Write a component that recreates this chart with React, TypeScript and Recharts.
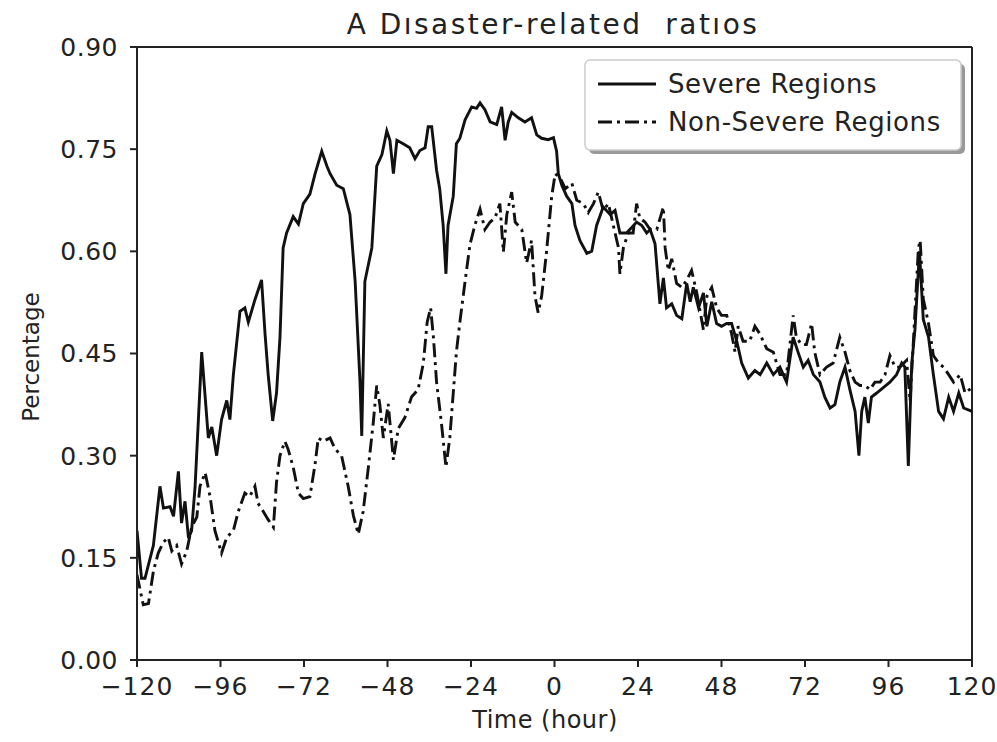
import React from 'react';
import { LineChart, Line, XAxis, YAxis, ReferenceLine } from 'recharts';

const severeHours = [
  -120, -118.7, -117.7, -115.3, -113.4, -112.4, -110.5, -109.5, -108.1, -107.2, -106.2, -105.2, -104.3, -103.3, -101.4,
  -99.5, -98.5, -97.1, -95.7, -94.2, -93.3, -92.3, -90.4, -89, -88, -86.1, -84.2, -83.2, -82.3, -81, -79.9, -78.9,
  -78, -77, -75.1, -73.6, -72.2, -70.3, -68.8, -66.9, -65.4, -64.5, -62.6, -60.7, -58.8, -57.3, -55.9, -55.4, -54.5,
  -52.5, -51.1, -49.6, -48.2, -47.3, -46.3, -45.3, -43.5, -41.6, -40.1, -38.7, -37.2, -36.3, -35.3, -33.9, -33, -32,
  -31.2, -30.6, -29.1, -28.2, -27.2, -25.7, -23.8, -22.4, -21.4, -20, -18.5, -16.6, -15.2, -14.2, -13.3, -12.3, -10.4,
  -8.5, -6.6, -5.1, -3.7, -1.8, -0.3, 0.6, 1.1, 2.1, 3.5, 5, 5.9, 7.3, 9.3, 10.7, 12.1, 14, 16, 17.4, 18.8, 20.7, 22.2,
  23.6, 25.1, 26.5, 27.5, 28.9, 30.3, 31.3, 32.2, 33.7, 35.1, 36.6, 38, 39, 39.9, 41.4, 42.8, 43.8, 45.2, 46.6, 48,
  49.5, 50.9, 52.4, 53.8, 55.7, 57.6, 59.1, 61, 62.9, 64.8, 66.7, 68.6, 70, 71.5, 72.9, 74.4, 76.3, 77.7, 79.2, 80.6,
  82, 83.5, 84.9, 86.4, 87.5, 88.3, 89.2, 90.2, 91.1, 92.6, 94.5, 96.4, 98.3, 99.8, 100.7, 101.7, 102.7, 103.6, 104.9,
  106, 107.5, 108.9, 110.4, 111.8, 113.3, 114.7, 116.2, 117.6, 120,
];
const severeValues = [
  0.19, 0.12, 0.12, 0.168, 0.255, 0.223, 0.225, 0.211, 0.277, 0.201, 0.233, 0.179, 0.19, 0.255, 0.452,
  0.326, 0.342, 0.3, 0.353, 0.381, 0.353, 0.419, 0.512, 0.517, 0.496, 0.529, 0.558, 0.479, 0.419, 0.351, 0.392, 0.474,
  0.605, 0.627, 0.651, 0.64, 0.67, 0.684, 0.714, 0.747, 0.725, 0.714, 0.697, 0.692, 0.654, 0.556, 0.408, 0.329, 0.556,
  0.605, 0.725, 0.742, 0.777, 0.763, 0.714, 0.763, 0.758, 0.752, 0.736, 0.748, 0.752, 0.783, 0.783, 0.719, 0.692, 0.638,
  0.567, 0.638, 0.681, 0.758, 0.766, 0.793, 0.812, 0.81, 0.818, 0.808, 0.79, 0.786, 0.812, 0.763, 0.79, 0.804, 0.796,
  0.79, 0.796, 0.771, 0.766, 0.764, 0.767, 0.747, 0.714, 0.697, 0.681, 0.67, 0.638, 0.616, 0.597, 0.6, 0.638, 0.665, 0.654, 0.66, 0.627, 0.627, 0.635,
  0.643, 0.638, 0.627, 0.632, 0.611, 0.523, 0.561, 0.517, 0.523, 0.506, 0.501, 0.553, 0.526, 0.547, 0.517, 0.539, 0.49, 0.526, 0.494, 0.49,
  0.494, 0.494, 0.468, 0.436, 0.414, 0.425, 0.419, 0.436, 0.419, 0.43, 0.408, 0.474, 0.452, 0.43, 0.44, 0.419, 0.408, 0.386, 0.37, 0.375,
  0.408, 0.43, 0.397, 0.365, 0.3, 0.365, 0.386, 0.348, 0.386, 0.392, 0.4, 0.408, 0.419, 0.436, 0.43, 0.285, 0.436, 0.485, 0.6,
  0.5, 0.474, 0.419, 0.365, 0.354, 0.386, 0.365, 0.392, 0.37, 0.365,
];

const nonSevereHours = [
  -120, -118.2, -116.7, -115.3, -113.9, -112.4, -111, -110, -108.6, -107.2, -105.7, -104.3, -102.8, -101.9, -100.4,
  -99, -97.6, -95.7, -94.2, -92.3, -90.9, -89, -87.6, -86.1, -85.2, -83.7, -82.3, -80.8, -79.9, -78.9, -77.5, -76.6,
  -75.1, -73.6, -72.2, -70.3, -68.8, -67.9, -66.5, -64.5, -63.1, -61.2, -59.3, -57.8, -56.4, -55, -53.5, -52.1, -51.1,
  -50.2, -49.2, -47.8, -46.3, -44.9, -43, -41.1, -39.2, -37.7, -36.6, -35.6, -34.8, -33.9, -32.5, -31.2, -30.1, -29.1,
  -28.2, -27.2, -25.7, -24.3, -22.9, -21.4, -20, -18.5, -17.1, -15.7, -14.7, -13.7, -12.3, -11.3, -9.4, -8, -6.6, -5.6,
  -4.7, -3.7, -2.3, -0.8, 0.2, 1.6, 3.1, 5, 6.4, 8.3, 9.7, 11.2, 12.6, 14, 15.5, 16.9, 18.4, 18.8, 19.8, 21.2, 22.6,
  23.6, 24.5, 26, 27.5, 29.4, 31.3, 31.8, 32.7, 33.7, 35.1, 36.6, 38, 39.4, 40.9, 42.8, 43.8, 45.2, 46.6, 48, 49.5,
  50.9, 51.9, 52.8, 54.2, 56.1, 57.6, 59, 61, 62.9, 64.8, 66.7, 68.6, 69.5, 71, 72.4, 73.9, 74.8, 76.3, 78.2, 80.1, 82,
  83.5, 84.9, 86.4, 87.8, 89.2, 90.7, 92.1, 93.6, 95, 96.4, 97.9, 99.3, 101.2, 102.2, 103.1, 104.6, 105.1, 106, 107.5,
  108.9, 110.4, 111.8, 113.3, 114.7, 116.6, 118, 120,
];
const nonSevereValues = [
  0.125, 0.081, 0.083, 0.13, 0.157, 0.173, 0.18, 0.16, 0.168, 0.141, 0.16, 0.195, 0.21, 0.255, 0.275,
  0.24, 0.19, 0.157, 0.18, 0.19, 0.218, 0.245, 0.24, 0.255, 0.23, 0.218, 0.206, 0.195, 0.261, 0.3, 0.321, 0.31,
  0.283, 0.245, 0.237, 0.24, 0.288, 0.326, 0.321, 0.326, 0.31, 0.3, 0.255, 0.212, 0.185, 0.218, 0.283, 0.348, 0.403,
  0.375, 0.326, 0.376, 0.294, 0.34, 0.356, 0.386, 0.397, 0.436, 0.496, 0.517, 0.474, 0.408, 0.348, 0.283, 0.326, 0.392,
  0.452, 0.496, 0.556, 0.61, 0.638, 0.662, 0.632, 0.643, 0.649, 0.67, 0.599, 0.654, 0.687, 0.643, 0.632, 0.583, 0.616, 0.534,
  0.51, 0.534, 0.599, 0.681, 0.714, 0.708, 0.692, 0.7, 0.675, 0.67, 0.657, 0.67, 0.687, 0.66, 0.67, 0.638, 0.605, 0.567, 0.605, 0.627, 0.627,
  0.67, 0.649, 0.643, 0.632, 0.632, 0.665, 0.605, 0.572, 0.589, 0.553, 0.547, 0.558, 0.572, 0.539, 0.485, 0.534, 0.547, 0.517, 0.506, 0.506,
  0.479, 0.452, 0.49, 0.468, 0.468, 0.49, 0.479, 0.457, 0.452, 0.419, 0.419, 0.506, 0.474, 0.463, 0.463, 0.494, 0.452, 0.419, 0.43, 0.436, 0.474,
  0.452, 0.425, 0.408, 0.403, 0.403, 0.397, 0.408, 0.408, 0.419, 0.447, 0.43, 0.43, 0.44, 0.38, 0.463, 0.605, 0.616, 0.53, 0.494,
  0.447, 0.436, 0.43, 0.419, 0.408, 0.419, 0.392, 0.4,
];

const xTicks = [-120, -96, -72, -48, -24, 0, 24, 48, 72, 96, 120];
const yTicks = [0, 0.15, 0.3, 0.45, 0.6, 0.75, 0.9];

const titleText = 'A Dısaster-related  ratıos';
const xLabel = 'Time (hour)';
const yLabel = 'Percentage';
const severeName = 'Severe Regions';
const nonSevereName = 'Non-Severe Regions';

const severeData = severeHours.map((h, i) => ({ hour: h, value: severeValues[i] }));
const nonSevereData = nonSevereHours.map((h, i) => ({ hour: h, value: nonSevereValues[i] }));

const FONT = '"DejaVu Sans", sans-serif';
const TEXT = '#222';
const DASHDOT = '14 5 3 5';

export default function App() {
  return (
    <div style={{ position: 'absolute', left: 0, top: 0, width: 997, height: 742, background: '#fff' }}>
      <LineChart
        width={997}
        height={742}
        margin={{ top: 47, right: 25, bottom: 0, left: 0 }}
        style={{ fontFamily: FONT }}
      >
        <XAxis
          dataKey="hour"
          type="number"
          domain={[-120, 120]}
          ticks={xTicks}
          allowDataOverflow
          height={82}
          tickSize={7}
          tickMargin={10}
          stroke="#222"
          strokeWidth={2}
          tick={{ fill: TEXT, fontSize: 25, fontFamily: FONT, letterSpacing: 1 }}
          tickFormatter={(v: number) => (v < 0 ? '\u2212' + Math.abs(v) : String(v))}
        />
        <YAxis
          type="number"
          domain={[0, 0.9]}
          ticks={yTicks}
          allowDataOverflow
          width={137}
          tickSize={7}
          tickMargin={12}
          stroke="#222"
          strokeWidth={2}
          tick={{ fill: TEXT, fontSize: 25, fontFamily: FONT, letterSpacing: 0.5 }}
          tickFormatter={(v: number) => v.toFixed(2)}
        />
        <ReferenceLine y={0.9} stroke="#222" strokeWidth={2} />
        <ReferenceLine x={120} stroke="#222" strokeWidth={2} />
        <Line
          data={nonSevereData}
          dataKey="value"
          type="linear"
          stroke="#111"
          strokeWidth={2.9}
          strokeDasharray={DASHDOT}
          dot={false}
          isAnimationActive={false}
          name={nonSevereName}
        />
        <Line
          data={severeData}
          dataKey="value"
          type="linear"
          stroke="#111"
          strokeWidth={2.9}
          dot={false}
          isAnimationActive={false}
          name={severeName}
        />
      </LineChart>
      <svg
        width={997}
        height={742}
        style={{ position: 'absolute', left: 0, top: 0, pointerEvents: 'none', fontFamily: FONT }}
      >
        <text x={553} y={34} textAnchor="middle" fontSize={28} fill={TEXT} letterSpacing={2.5} style={{ whiteSpace: 'pre' }}>
          {titleText}
        </text>
        <text x={545} y={728} textAnchor="middle" fontSize={24} fill={TEXT} letterSpacing={0.5}>
          {xLabel}
        </text>
        <text
          transform="translate(39,357) rotate(-90)"
          textAnchor="middle"
          fontSize={23}
          fill={TEXT}
        >
          {yLabel}
        </text>
        <rect x={589} y={64} width={376} height={90} rx={5} fill="#999" />
        <rect x={585} y={60} width={376} height={90} rx={5} fill="#fff" stroke="#ccc" strokeWidth={1.5} />
        <line x1={598} y1={84} x2={656} y2={84} stroke="#111" strokeWidth={3} />
        <line x1={598} y1={122} x2={656} y2={122} stroke="#111" strokeWidth={3} strokeDasharray={DASHDOT} />
        <text x={668} y={93} fontSize={26} fill={TEXT} letterSpacing={0.6}>
          {severeName}
        </text>
        <text x={668} y={131} fontSize={26} fill={TEXT} letterSpacing={0.6}>
          {nonSevereName}
        </text>
      </svg>
    </div>
  );
}
